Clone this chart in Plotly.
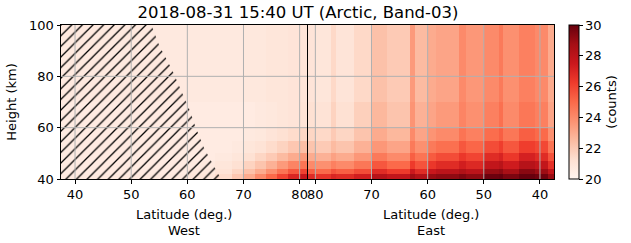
import plotly.graph_objects as go

# ---------------- data ----------------
DIVIDE = 81.4                      # latitude where West joins East (deg.)
height_edges = [40, 42, 44, 47, 50, 55, 60, 70, 100]

west_lat_edges = [37.5, 60, 65, 68, 70, 72, 74, 76, 78, 80, 81.4]
# one profile per column, bottom row first (counts)
west_values = [
    [20.7, 20.6, 20.6, 20.6, 20.6, 20.6, 20.6, 20.7],
    [20.9, 20.8, 20.7, 20.6, 20.6, 20.6, 20.6, 20.7],
    [21.4, 21.1, 20.9, 20.7, 20.6, 20.6, 20.6, 20.7],
    [22.1, 21.6, 21.2, 20.9, 20.7, 20.6, 20.6, 20.7],
    [23.0, 22.3, 21.7, 21.2, 20.9, 20.7, 20.6, 20.8],
    [24.0, 23.0, 22.2, 21.6, 21.1, 20.8, 20.7, 20.8],
    [25.0, 23.8, 22.8, 22.0, 21.4, 21.0, 20.8, 20.9],
    [26.0, 24.7, 23.5, 22.5, 21.7, 21.2, 20.9, 20.9],
    [27.0, 25.5, 24.2, 23.0, 22.1, 21.4, 21.0, 21.0],
    [27.6, 26.1, 24.7, 23.5, 22.4, 21.6, 21.1, 21.0],
]

east_lat_edges = [81.4, 80, 77.3, 76.4, 73.2, 70, 67.3, 63.2, 62.3, 60, 58.5,
                  54.4, 53.2, 50, 47.3, 46.5, 43.8, 40.9, 38.5, 37.5]
east_values = [
    [26.8, 25.3, 24.0, 23.0, 22.2, 21.6, 21.2, 21.0],
    [26.5, 25.0, 23.8, 22.8, 22.0, 21.5, 21.1, 20.9],
    [27.0, 25.6, 24.3, 23.3, 22.5, 22.0, 21.7, 21.5],
    [26.8, 25.3, 24.0, 23.0, 22.2, 21.6, 21.2, 21.0],
    [27.3, 25.8, 24.6, 23.6, 22.8, 22.2, 21.8, 21.5],
    [28.2, 26.8, 25.5, 24.5, 23.6, 23.0, 22.6, 22.3],
    [27.8, 26.3, 25.0, 24.0, 23.2, 22.6, 22.2, 22.0],
    [28.8, 27.5, 26.3, 25.3, 24.5, 24.0, 23.7, 23.5],
    [28.3, 26.8, 25.6, 24.7, 23.8, 23.2, 22.8, 22.5],
    [29.0, 27.6, 26.4, 25.4, 24.5, 23.7, 23.2, 23.0],
    [29.2, 28.0, 26.8, 25.8, 24.8, 24.0, 23.5, 23.2],
    [29.5, 28.4, 27.3, 26.4, 25.5, 24.7, 24.2, 24.0],
    [29.2, 28.0, 26.9, 26.0, 25.1, 24.3, 23.8, 23.6],
    [29.9, 29.0, 27.8, 26.8, 25.8, 24.9, 24.3, 24.0],
    [30.0, 29.2, 28.1, 27.1, 26.2, 25.3, 24.8, 24.5],
    [29.6, 28.6, 27.4, 26.4, 25.5, 24.6, 24.0, 23.8],
    [30.0, 29.3, 28.2, 27.2, 26.2, 25.3, 24.6, 24.3],
    [29.8, 28.9, 27.8, 26.8, 25.9, 25.0, 24.3, 24.0],
    [29.0, 27.8, 26.6, 25.6, 24.7, 23.8, 23.2, 23.0],
]

# region without data (hatched), West side
hatch_lat = [37.5, 37.5, 53.6, 55.0, 57.3, 59.0, 60.4, 61.5, 63.0, 65.0, 66.0]
hatch_height = [40, 100, 100, 92, 82.5, 74, 67, 60, 52, 44, 40]

west_ticks = [40, 50, 60, 70, 80]
east_ticks = [80, 70, 60, 50, 40]
height_ticks = [40, 60, 80, 100]
cbar_ticks = [20, 22, 24, 26, 28, 30]

# ---------------- build ----------------
def east_pos(lat):
    return 2 * DIVIDE - lat

x_edges = list(west_lat_edges) + [east_pos(v) for v in east_lat_edges[1:]]
columns = west_values + east_values
z = [[col[r] for col in columns] for r in range(len(height_edges) - 1)]

FONT = "DejaVu Sans"
TICKFONT = dict(family=FONT, size=13, color="black")
fig = go.Figure()
fig.add_trace(go.Heatmap(
    x=x_edges, y=height_edges, z=z, zmin=20, zmax=30,
    colorscale="Reds", showscale=True,
    colorbar=dict(
        x=1.030, xanchor="left", xpad=0, y=0.5, yanchor="middle", ypad=0,
        len=1, lenmode="fraction", thickness=10, thicknessmode="pixels",
        outlinecolor="black", outlinewidth=1,
        tickvals=cbar_ticks, ticks="outside", ticklen=3.5, tickwidth=1,
        tickcolor="black", tickfont=TICKFONT,
        title=dict(text="(counts)", side="right", font=TICKFONT),
    ),
    hoverinfo="skip",
))

fig.add_trace(go.Scatter(
    x=hatch_lat + [hatch_lat[0]], y=hatch_height + [hatch_height[0]],
    mode="lines", fill="toself", line=dict(width=0),
    fillcolor="rgba(0,0,0,0)",
    fillpattern=dict(shape="/", fgcolor="black", bgcolor="rgba(0,0,0,0)",
                     size=7.5, solidity=0.17, fgopacity=1),
    hoverinfo="skip", showlegend=False,
))

xtick_vals = list(west_ticks) + [east_pos(v) for v in east_ticks]
xtick_text = [str(v) for v in west_ticks] + [str(v) for v in east_ticks]

shapes = []
for xv in xtick_vals:
    shapes.append(dict(type="line", xref="x", yref="paper", x0=xv, x1=xv,
                       y0=0, y1=1, line=dict(color="#b0b0b0", width=1),
                       layer="above"))
for yv in height_ticks[1:-1]:
    shapes.append(dict(type="line", xref="paper", yref="y", x0=0, x1=1,
                       y0=yv, y1=yv, line=dict(color="#b0b0b0", width=1),
                       layer="above"))
shapes.append(dict(type="line", xref="x", yref="paper", x0=DIVIDE, x1=DIVIDE,
                   y0=0, y1=1, line=dict(color="black", width=1), layer="above"))

x_lo = west_lat_edges[0]
x_hi = east_pos(east_lat_edges[-1])

annotations = []
for text, xc, yy in [("Latitude (deg.)", (x_lo + DIVIDE) / 2, -0.23),
                     ("West", (x_lo + DIVIDE) / 2, -0.335),
                     ("Latitude (deg.)", (DIVIDE + x_hi) / 2, -0.23),
                     ("East", (DIVIDE + x_hi) / 2, -0.335)]:
    annotations.append(dict(text=text, x=xc, y=yy, xref="x", yref="paper",
                            showarrow=False, xanchor="center", yanchor="middle",
                            font=TICKFONT))

fig.update_layout(
    width=631, height=243,
    margin=dict(l=61, r=74, t=25, b=64),
    paper_bgcolor="white", plot_bgcolor="white",
    font=dict(family=FONT, size=13, color="black"),
    title=dict(text="2018-08-31 15:40 UT (Arctic, Band-03)",
               x=298 / 631, xanchor="center",
               y=1 - 12 / 243, yanchor="middle",
               font=dict(family=FONT, size=16.5, color="black")),
    xaxis=dict(range=[x_lo, x_hi], tickvals=xtick_vals, ticktext=xtick_text,
               tickangle=0, tickfont=TICKFONT,
               ticks="outside", ticklen=3.5, tickwidth=1, tickcolor="black",
               showgrid=False, zeroline=False, showline=True, linecolor="black",
               linewidth=1, mirror=True, layer="above traces"),
    yaxis=dict(range=[40, 100], tickvals=height_ticks, tickfont=TICKFONT,
               ticks="outside", ticklen=3.5, tickwidth=1, tickcolor="black",
               showgrid=False, zeroline=False, showline=True, linecolor="black",
               linewidth=1, mirror=True, layer="above traces",
               title=dict(text="Height (km)", standoff=9, font=TICKFONT)),
    shapes=shapes, annotations=annotations, showlegend=False,
)

fig.write_html("out.html")
